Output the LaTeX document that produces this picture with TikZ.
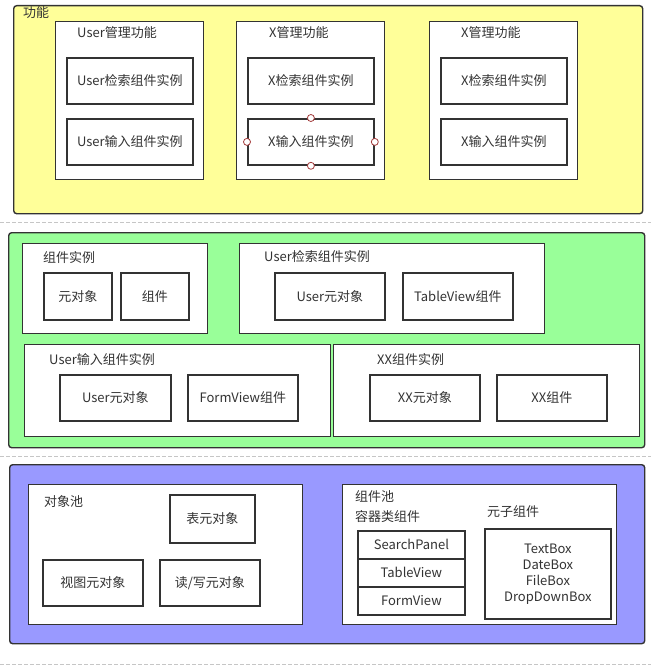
\documentclass[tikz,border=0pt]{standalone}
\usepackage{fontspec}
\setmainfont{Noto Sans CJK SC}
\usetikzlibrary{positioning}

\definecolor{yel}{HTML}{FFFF99}
\definecolor{grn}{HTML}{99FF99}
\definecolor{blu}{HTML}{9999FF}
\definecolor{ink}{HTML}{333333}
\definecolor{pinred}{HTML}{A33A3A}

\begin{document}
\begin{tikzpicture}[x=1pt,y=-1pt,
	font=\fontsize{13}{16}\selectfont,text=ink,
	layer/.style={draw=ink,line width=1.4pt,rounded corners=3pt,anchor=north west,inner sep=0pt},
	panel/.style={draw=ink,fill=white,line width=1.3pt,anchor=north west,inner sep=0pt},
	item/.style={draw=ink,fill=white,line width=1.8pt,anchor=north west,inner sep=0pt,minimum width=126pt,minimum height=46pt},
	title/.style={anchor=west,inner sep=0pt},
	pin/.style={circle,draw=pinred,fill=white,line width=0.8pt,minimum size=7pt,inner sep=0pt},
	sep/.style={draw=gray!45,dash pattern=on 4pt off 2pt,line width=1pt}]
	\useasboundingbox (0,0) rectangle (651,666);

	% layer 1
	\node[layer,fill=yel,minimum width=629pt,minimum height=208pt] (fn) at (13,5) {};
	\node[title] (fnt) at ([shift={(10,8)}]fn.north west) {功能};
	\node[panel,minimum width=148pt,minimum height=158pt] (um) at (55,21) {};
	\node[panel,minimum width=148pt,minimum height=158pt] (xm) at (236,21) {};
	\node[panel,minimum width=148pt,minimum height=158pt] (ym) at (429,21) {};
	\node[title] (umt) at ([shift={(22,12)}]um.north west) {User管理功能};
	\node[title] (xmt) at ([shift={(33,12)}]xm.north west) {X管理功能};
	\node[title] (ymt) at ([shift={(32,12)}]ym.north west) {X管理功能};
	\node[item] (us) at (66,57) {User检索组件实例};
	\node[item] (ui) at (66,118) {User输入组件实例};
	\node[item] (xs) at (247,57) {X检索组件实例};
	\node[item] (xi) at (247,118) {X输入组件实例};
	\node[item] (ys) at (440,57) {X检索组件实例};
	\node[item] (yi) at (440,118) {X输入组件实例};
	\node[pin] (p1) at (xi.north) {};
	\node[pin] (p2) at (xi.south) {};
	\node[pin] (p3) at (xi.west) {};
	\node[pin] (p4) at (xi.east) {};

	\draw[sep] (0,222) -- (651,222);

	% layer 2
	\node[layer,fill=grn,minimum width=636pt,minimum height=215pt] (ci) at (8,232) {};
	\node[panel,minimum width=185pt,minimum height=90pt] (gi) at (22,243) {};
	\node[title] (git) at ([shift={(21,15)}]gi.north west) {组件实例};
	\node[item,minimum width=68pt,minimum height=47pt] (go) at (43,272) {元对象};
	\node[item,minimum width=68pt,minimum height=47pt] (gc) at (120,272) {组件};
	\node[panel,minimum width=305pt,minimum height=90pt] (si) at (239,243) {};
	\node[title] (sit) at ([shift={(25,14)}]si.north west) {User检索组件实例};
	\node[item,minimum width=110pt,minimum height=47pt] (so) at (274,272) {User元对象};
	\node[item,minimum width=110pt,minimum height=47pt] (sc) at (402,272) {TableView组件};
	\node[panel,minimum width=306pt,minimum height=92pt] (ii) at (24,344) {};
	\node[title] (iit) at ([shift={(25,16)}]ii.north west) {User输入组件实例};
	\node[item,minimum width=111pt] (io) at (59,374) {User元对象};
	\node[item,minimum width=110pt] (ic) at (187,374) {FormView组件};
	\node[panel,minimum width=306pt,minimum height=92pt] (xx) at (333,344) {};
	\node[title] (xxt) at ([shift={(44,16)}]xx.north west) {XX组件实例};
	\node[item,minimum width=110pt] (xo) at (369,374) {XX元对象};
	\node[item,minimum width=110pt] (xc) at (496,374) {XX组件};

	\draw[sep] (0,456) -- (651,456);

	% layer 3
	\node[layer,fill=blu,minimum width=635pt,minimum height=179pt] (pl) at (9,464) {};
	\node[panel,minimum width=274pt,minimum height=140pt] (op) at (28,484) {};
	\node[title] (opt) at ([shift={(16,18)}]op.north west) {对象池};
	\node[item,minimum width=85pt,minimum height=48pt] (tb) at (169,494) {表元对象};
	\node[item,minimum width=100pt] (vw) at (42,559) {视图元对象};
	\node[item,minimum width=100pt] (rw) at (159,559) {读/写元对象};
	\node[panel,minimum width=274pt,minimum height=140pt] (cp) at (342,484) {};
	\node[title] (cpt) at ([shift={(13,13)}]cp.north west) {组件池};
	\node[title] (ctt) at ([shift={(13,33)}]cp.north west) {容器类组件};
	\node[title] (att) at ([shift={(145,28)}]cp.north west) {元子组件};
	\node[item,minimum width=107pt,minimum height=28pt] (sp) at (357,530) {SearchPanel};
	\node[item,minimum width=107pt,minimum height=28pt,anchor=north] (tv) [below=-1.8pt of sp] {TableView};
	\node[item,minimum width=107pt,minimum height=28pt,anchor=north] (fv) [below=-1.8pt of tv] {FormView};
	\node[item,minimum width=126pt,minimum height=90pt,align=center] (ab) at (484,528) {TextBox\\DateBox\\FileBox\\DropDownBox};

	\draw[sep] (0,664) -- (651,664);
\end{tikzpicture}
\end{document}
